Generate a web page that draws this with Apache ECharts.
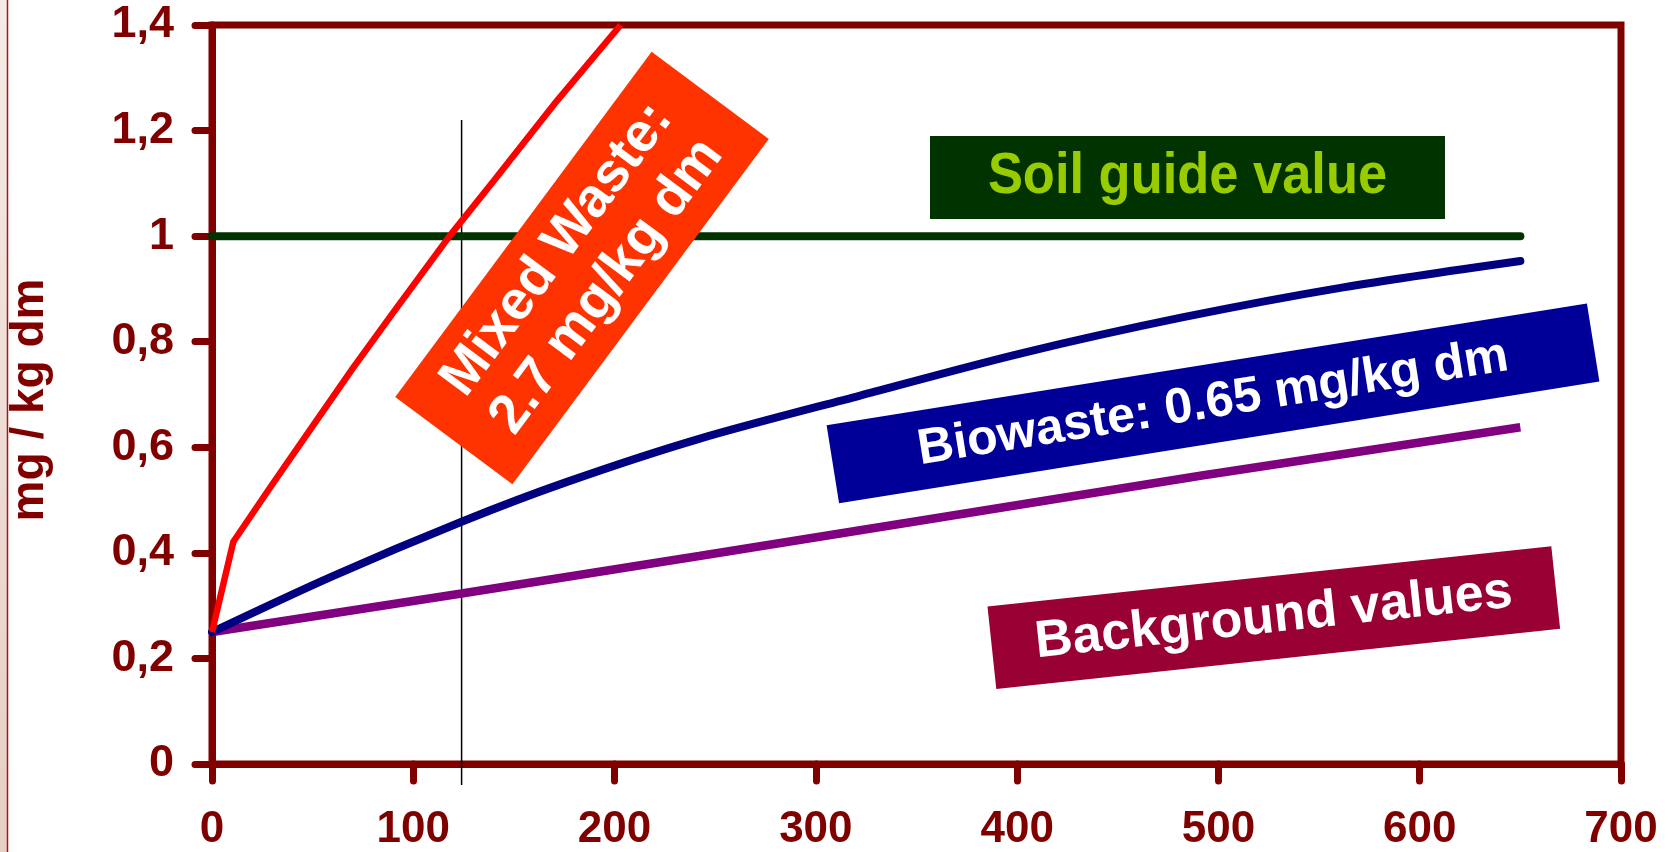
<!DOCTYPE html>
<html>
<head>
<meta charset="utf-8">
<script src="https://cdn.jsdelivr.net/npm/echarts@6/dist/echarts.min.js"></script>
<style>
html,body{margin:0;padding:0;background:#fff;}
#chart{width:1679px;height:852px;}
</style>
</head>
<body>
<div id="chart"></div>
<script>
// ---- data ----
var xTickLabels = ['0','100','200','300','400','500','600','700'];
var yTickLabels = ['0','0,2','0,4','0,6','0,8','1','1,2','1,4'];
var mixedWaste = [[0,0.25],[10.6,0.421],[30,0.53],[50,0.64],[70,0.75],[90,0.855],[118,1.0],[140,1.105],[170,1.25],[203,1.4]];
var biowaste = [[0,0.25],[60,0.356],[124,0.459],[176,0.534],[242,0.616],[322,0.698],[402,0.778],[482,0.846],[562,0.903],[650,0.953]];
var background = [[0,0.25],[124,0.323],[242,0.394],[350,0.46],[491,0.546],[650,0.638]];
var soilGuide = [[0,1],[650,1]];
var markerLine = [[124,-0.04],[124,1.22]];
var yAxisTitle = 'mg / kg dm';
var labelSoil = 'Soil guide value';
var labelMixed = 'Mixed Waste:\n2.7 mg/kg dm';
var labelBio = 'Biowaste: 0.65 mg/kg dm';
var labelBack = 'Background values';

var FONT = '"Liberation Sans", Arial, Helvetica, sans-serif';
var AXIS = '#800000';

function box(cx, cy, w, h, angleDeg, fill, text, color, fontSize, lineHeight, sx) {
  return {
    type: 'group', x: cx, y: cy, rotation: angleDeg * Math.PI / 180, z: 100,
    children: [
      {type: 'rect', z: 100, shape: {x: -w/2, y: -h/2, width: w, height: h}, style: {fill: fill}},
      {type: 'text', z: 101, x: 0, y: 0, scaleX: sx || 1, style: {text: text, fill: color, fontSize: fontSize, fontWeight: 'bold',
        fontFamily: FONT, align: 'center', verticalAlign: 'middle', lineHeight: lineHeight || fontSize}}
    ]
  };
}

var chart = echarts.init(document.getElementById('chart'));
chart.setOption({
  animation: false,
  backgroundColor: '#ffffff',
  grid: {left: 212, right: 58, top: 25, bottom: 86, show: true, borderColor: AXIS, borderWidth: 7, backgroundColor: 'transparent'},
  xAxis: {
    type: 'value', min: 0, max: 700, interval: 100,
    axisLine: {lineStyle: {color: AXIS, width: 7}},
    axisTick: {length: 17, lineStyle: {color: AXIS, width: 7, cap: 'round'}},
    splitLine: {show: false},
    axisLabel: {margin: 44, color: AXIS, fontSize: 44, fontWeight: 'bold', fontFamily: FONT,
      formatter: function (v) { return xTickLabels[Math.round(v / 100)]; }}
  },
  yAxis: {
    type: 'value', min: 0, max: 1.4, interval: 0.2,
    axisLine: {lineStyle: {color: AXIS, width: 7}},
    axisTick: {length: 17, lineStyle: {color: AXIS, width: 7, cap: 'round'}},
    splitLine: {show: false},
    axisLabel: {margin: 38, color: AXIS, fontSize: 45, fontWeight: 'bold', fontFamily: FONT,
      formatter: function (v) { return yTickLabels[Math.round(v / 0.2)]; }}
  },
  series: [
    {type: 'line', data: markerLine, symbol: 'none', clip: false, z: 1, lineStyle: {color: '#000000', width: 1.5}},
    {type: 'line', data: soilGuide, symbol: 'none', z: 2, lineStyle: {color: '#003300', width: 8, cap: 'round'}},
    {type: 'line', data: background, symbol: 'none', z: 3, lineStyle: {color: '#800080', width: 8.5}},
    {type: 'line', data: biowaste, symbol: 'none', smooth: 0.3, z: 4, lineStyle: {color: '#000080', width: 8, cap: 'round'}},
    {type: 'line', data: mixedWaste, symbol: 'none', z: 5, lineStyle: {color: '#FF0000', width: 6.5, join: 'round'}}
  ],
  graphic: [
    {type: 'rect', shape: {x: 0, y: 0, width: 7, height: 852}, z: 0,
      style: {fill: new echarts.graphic.LinearGradient(0, 0, 0, 1, [{offset: 0, color: '#f5ebe6'}, {offset: 1, color: '#e6cfc5'}])}},
    {type: 'line', shape: {x1: 7.5, y1: 0, x2: 7.5, y2: 852}, z: 0, style: {stroke: '#b01010', lineWidth: 1.5}},
    {type: 'text', x: 30, y: 400, rotation: Math.PI / 2, z: 100,
      style: {text: yAxisTitle, fill: AXIS, fontSize: 46, fontWeight: 'bold', fontFamily: FONT, align: 'center', verticalAlign: 'middle'}},
    box(1187.5, 177.5, 515, 83, 0, '#003300', labelSoil, '#99CC00', 57, 57, 0.92),
    box(582, 268, 430, 146, 53.4, '#FF3300', labelMixed, '#ffffff', 55, 62),
    box(1213, 403.3, 770, 79, 9.1, '#000099', labelBio, '#ffffff', 50),
    box(1273.8, 617.6, 567, 83, 6.1, '#990033', labelBack, '#ffffff', 52)
  ]
});
</script>
</body>
</html>
